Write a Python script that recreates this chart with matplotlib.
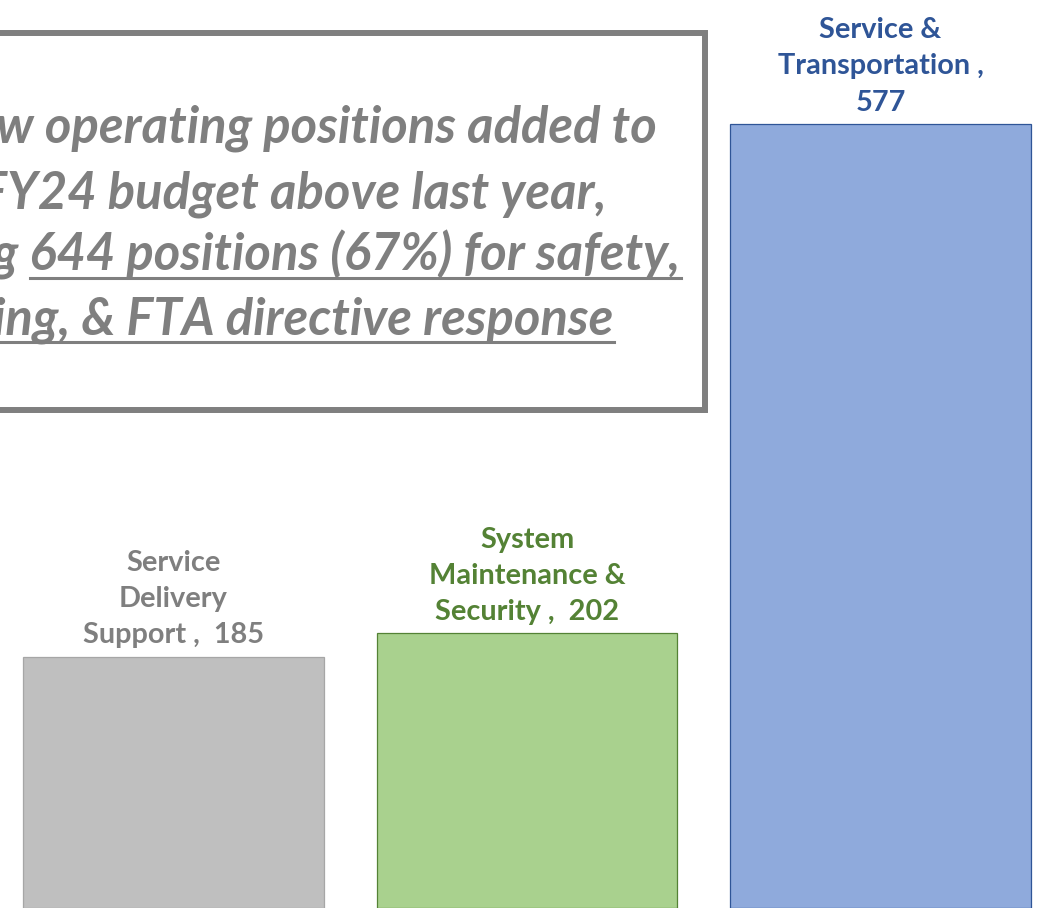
import matplotlib
matplotlib.use("Agg")
import matplotlib.pyplot as plt
from matplotlib.patches import Rectangle
from matplotlib.lines import Line2D

# ---- data ----
categories = ["Service\nDelivery\nSupport", "System\nMaintenance &\nSecurity", "Service &\nTransportation ,"]
values = [185, 202, 577]
label_texts = ["Service\nDelivery\nSupport ,  185", "System\nMaintenance &\nSecurity ,  202", "Service &\nTransportation ,\n577"]
fill_colors = ["#bfbfbf", "#a9d18e", "#8faadc"]
edge_colors = ["#a6a6a6", "#548235", "#2f5597"]
label_colors = ["#7f7f7f", "#548235", "#2f5597"]

box_lines = ["964 new operating positions added to",
             "the FY24 budget above last year,",
             "including 644 positions (67%) for safety,",
             "training, & FTA directive response"]
underline_parts = [None, None, "644 positions (67%) for safety,", "training, & FTA directive response"]

W, H = 1038, 909
fig = plt.figure(figsize=(W / 100, H / 100), dpi=100)
FONT = "Lato"

# bar axes
ax = fig.add_axes([0, 1 / H, 1, 908 / H])
x = list(range(len(values)))
ax.bar(x, values, width=0.849, color=fill_colors, edgecolor=edge_colors, linewidth=0.9)
ax.set_xlim(-0.4908, 2.4455)
ax.set_ylim(0, 908 / 1.359)
ax.axis("off")
for i, (v, t, c) in enumerate(zip(values, label_texts, label_colors)):
    ax.annotate(t, (i, v), xytext=(0, 6), textcoords="offset points", ha="center", va="bottom",
                fontsize=20.8, fontweight="bold", color=c, family=FONT, linespacing=1.48)

# overlay axes in pixel coordinates for the text box
ov = fig.add_axes([0, 0, 1, 1])
ov.set_xlim(0, W)
ov.set_ylim(H, 0)
ov.axis("off")
ov.patch.set_alpha(0)

gray = "#7f7f7f"
ov.add_patch(Rectangle((-201, 33), 705 + 201, 410 - 33, fill=False, edgecolor=gray, linewidth=4.3))

baselines = [143, 208, 271, 335]
renderer = fig.canvas.get_renderer()
# fit font size so that the longest line spans like the original
probe = ov.text(0, 0, box_lines[2], fontsize=10, fontweight="bold", style="italic", family=FONT)
w10 = probe.get_window_extent(renderer).width
probe.remove()
fs = 10 * 856 / w10
cx = 252
for line, yb, up in zip(box_lines, baselines, underline_parts):
    t = ov.text(cx, yb, line, ha="center", va="baseline", fontsize=fs, fontweight="bold",
                style="italic", family=FONT, color=gray)
    if up is not None:
        bb = t.get_window_extent(renderer)
        p = ov.text(0, 0, up, fontsize=fs, fontweight="bold", style="italic", family=FONT)
        wp = p.get_window_extent(renderer).width
        p.remove()
        right = bb.x1
        left = right - wp
        ov.add_line(Line2D([left, right], [yb + 7, yb + 7], color=gray, linewidth=2.2))

fig.savefig("out.png", dpi=100)
